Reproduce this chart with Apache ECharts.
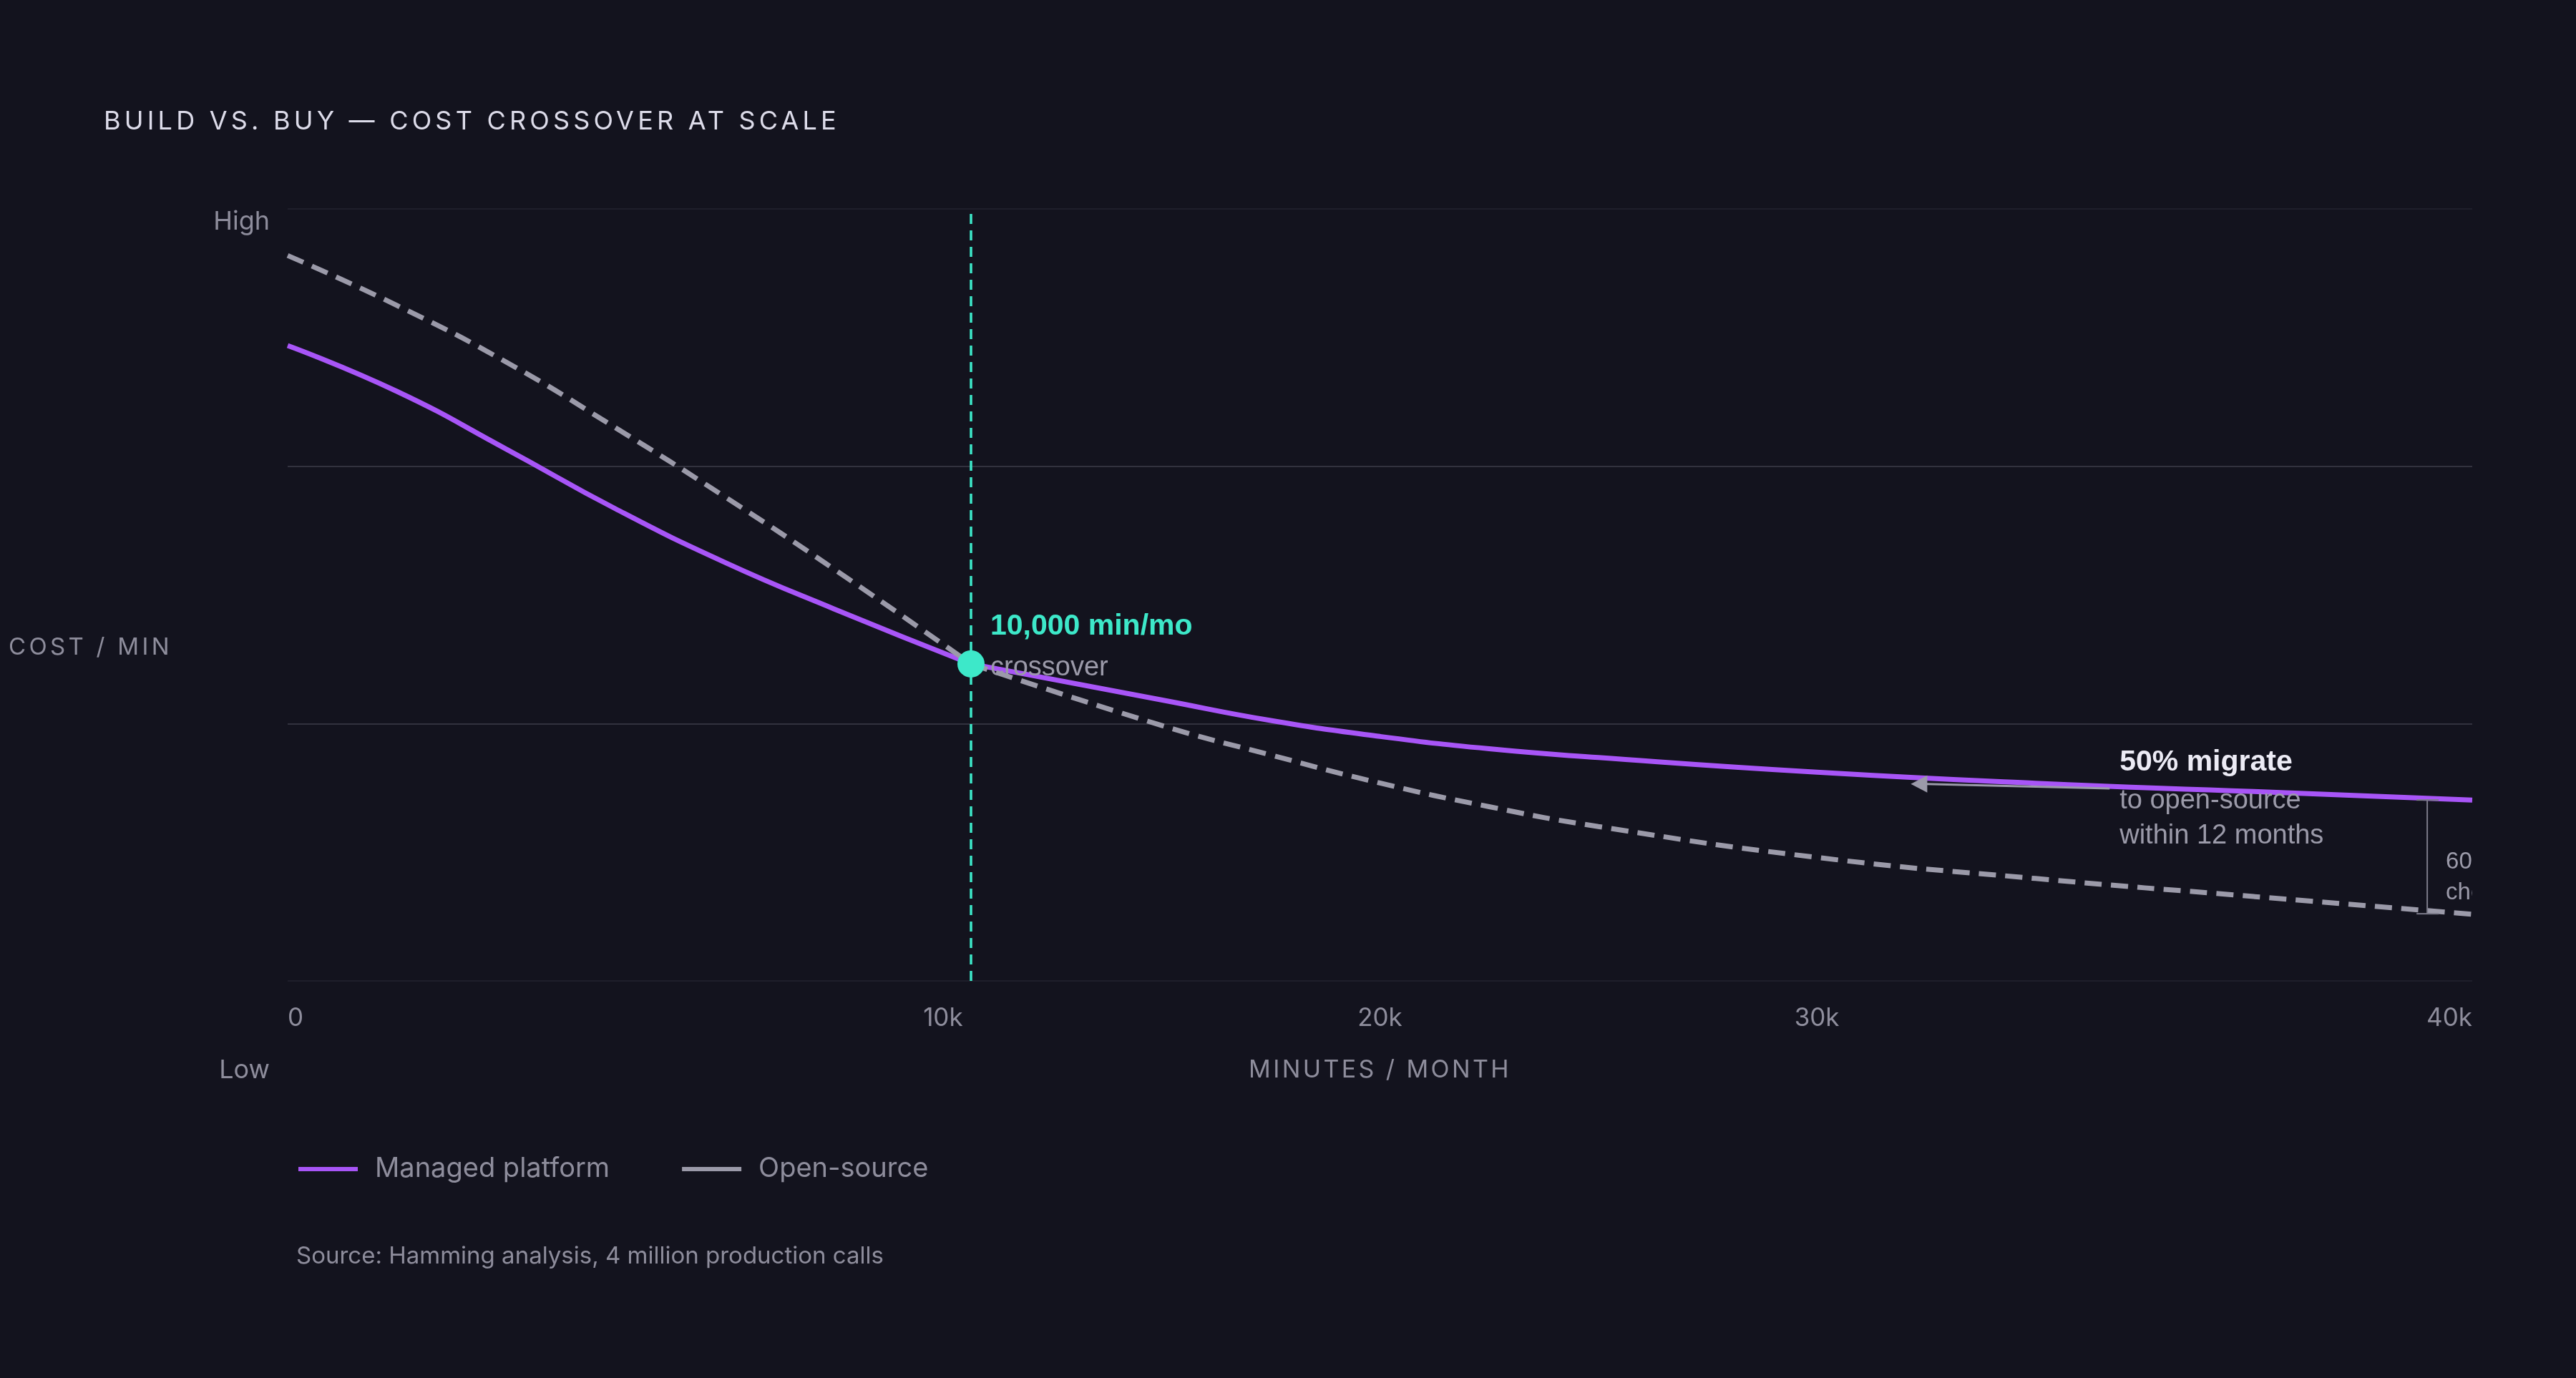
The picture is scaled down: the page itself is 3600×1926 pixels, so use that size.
<!DOCTYPE html>
<html style="height: 100%">
<head>
    <meta charset="utf-8">
</head>
<body style="height: 100%; margin: 0; background: #13131e">
    <div id="container" style="width: 3600px; height: 1926px"></div>
    <script type="text/javascript" src="https://cdn.jsdelivr.net/npm/echarts@6/dist/echarts.min.js"></script>
    <script type="text/javascript">
        // x is the position along the (non-linear) usage axis, 0..100
        var xTickPos = [0, 30, 50, 70, 100];
        var xTickLabels = ['0', '10k', '20k', '30k', '40k'];

        var managedX = [0, 5, 10, 15, 20, 25, 31.28, 40, 45, 50, 55, 60, 70, 80, 90, 100];
        var managedY = [2.469, 2.291, 2.067, 1.835, 1.627, 1.446, 1.232, 1.092, 1.012, 0.950, 0.902, 0.868, 0.811, 0.768, 0.736, 0.703];

        var openX = [0, 5, 10, 15, 20, 25, 31.28, 40, 45, 50, 55, 60, 70, 80, 90, 100];
        var openY = [2.819, 2.625, 2.405, 2.150, 1.882, 1.601, 1.232, 0.993, 0.878, 0.769, 0.677, 0.600, 0.480, 0.398, 0.328, 0.259];

        var crossover = [31.28, 1.232];
        var migrateArrow = [[83.4, 0.748], [74.3, 0.765]];
        var gapBracket = [97.94, 0.703, 0.261];

        var teal = '#3de8c9';
        var purple = '#a855f7';
        var grey = '#9b9aa9';
        var muted = '#8e8d9c';
        var sans = 'Inter';
        var note = '"Liberation Sans", Arial';

        // tracked caps labels: canvas letterSpacing, zrender has no option for it
        var spacedText = {
            'BUILD VS. BUY — COST CROSSOVER AT SCALE': 5.2,
            'COST / MIN': 4.3,
            'MINUTES / MONTH': 3.4
        };
        var baseFillText = CanvasRenderingContext2D.prototype.fillText;
        CanvasRenderingContext2D.prototype.fillText = function (t) {
            if (spacedText[t] && 'letterSpacing' in this) {
                var font = this.font;
                this.letterSpacing = spacedText[t] + 'px';
                baseFillText.apply(this, arguments);
                this.letterSpacing = '0px';
                // force chrome to drop the spaced font state
                this.font = '10px sans-serif';
                this.font = font;
                return;
            }
            return baseFillText.apply(this, arguments);
        };

        function zip(xs, ys) {
            return xs.map(function (x, i) { return [x, ys[i]]; });
        }

        // curves have a corner at the crossover, so each is drawn as two smooth pieces
        function pieces(xs, ys) {
            var k = xs.indexOf(crossover[0]);
            return [zip(xs.slice(0, k + 1), ys.slice(0, k + 1)), zip(xs.slice(k), ys.slice(k))];
        }

        function renderNotes(params, api) {
            var c = api.coord(crossover);
            var a0 = api.coord(migrateArrow[0]);
            var a1 = api.coord(migrateArrow[1]);
            var bt = api.coord([gapBracket[0], gapBracket[1]]);
            var bb = api.coord([gapBracket[0], gapBracket[2]]);
            var txt = function (x, y, s, font, fill) {
                return {
                    type: 'text', x: x, y: y,
                    style: { text: s, font: font, fill: fill, align: 'left', verticalAlign: 'middle', textAlign: 'left', textVerticalAlign: 'middle' }
                };
            };
            return {
                type: 'group',
                children: [
                    txt(c[0] + 27, c[1] - 52, '10,000 min/mo', 'bold 41px ' + note, teal),
                    txt(c[0] + 27, c[1] + 6, 'crossover', '38px ' + note, grey),
                    { type: 'line', shape: { x1: a0[0], y1: a0[1], x2: a1[0] + 20, y2: a1[1] }, style: { stroke: grey, lineWidth: 3 } },
                    { type: 'polygon', shape: { points: [[a1[0], a1[1]], [a1[0] + 23, a1[1] - 12], [a1[0] + 23, a1[1] + 12]] }, style: { fill: grey } },
                    txt(a0[0] + 14, a0[1] - 36, '50% migrate', 'bold 41px ' + note, '#ecebf5'),
                    txt(a0[0] + 14, a0[1] + 18, 'to open-source', '38px ' + note, grey),
                    txt(a0[0] + 14, a0[1] + 67, 'within 12 months', '38px ' + note, grey),
                    { type: 'line', shape: { x1: bt[0], y1: bt[1], x2: bb[0], y2: bb[1] }, style: { stroke: '#7c7b8a', lineWidth: 2 } },
                    { type: 'line', shape: { x1: bt[0] - 15, y1: bt[1], x2: bt[0] + 16, y2: bt[1] }, style: { stroke: '#7c7b8a', lineWidth: 2 } },
                    { type: 'line', shape: { x1: bb[0] - 15, y1: bb[1], x2: bb[0] + 16, y2: bb[1] }, style: { stroke: '#7c7b8a', lineWidth: 2 } },
                    txt(bt[0] + 26, bt[1] + 87, '60%', '33px ' + note, grey),
                    txt(bt[0] + 26, bt[1] + 130, 'cheaper', '33px ' + note, grey)
                ]
            };
        }

        var managedParts = pieces(managedX, managedY);
        var openParts = pieces(openX, openY);

        function curve(name, data, lineStyle) {
            return {
                name: name,
                type: 'line',
                smooth: 0.5,
                showSymbol: false,
                color: lineStyle.color,
                lineStyle: lineStyle,
                data: data
            };
        }
        var managedStyle = { color: purple, width: 7 };
        var openStyle = { color: grey, width: 7, type: [24, 13], cap: 'butt' };

        var dom = document.getElementById('container');
        var myChart = echarts.init(dom);
        var option = {
            backgroundColor: '#13131e',
            animation: false,
            title: [{
                text: 'BUILD VS. BUY — COST CROSSOVER AT SCALE',
                left: 145,
                top: 152,
                padding: 0,
                textStyle: { color: '#dddcea', fontFamily: sans, fontSize: 36, fontWeight: 'normal' }
            }, {
                text: 'Source: Hamming analysis, 4 million production calls',
                left: 414,
                top: 1740,
                padding: 0,
                textStyle: { color: muted, fontFamily: sans, fontSize: 33, fontWeight: 'normal' }
            }],
            grid: { left: 402, right: 145, top: 292, bottom: 555 },
            legend: {
                left: 412,
                top: 1610,
                icon: 'rect',
                itemWidth: 83,
                itemHeight: 6,
                itemGap: 101,
                textStyle: { color: muted, fontFamily: sans, fontSize: 38, padding: [0, 0, 0, 19] },
                data: ['Managed platform', 'Open-source']
            },
            xAxis: {
                type: 'value',
                min: 0,
                max: 100,
                name: 'MINUTES / MONTH',
                nameLocation: 'middle',
                nameGap: 108,
                nameTextStyle: { color: muted, fontFamily: sans, fontSize: 34 },
                axisLine: { show: false },
                axisTick: { show: false },
                splitLine: { show: false },
                axisLabel: {
                    customValues: xTickPos,
                    formatter: function (v) { return xTickLabels[xTickPos.indexOf(v)]; },
                    alignMinLabel: 'left',
                    alignMaxLabel: 'right',
                    color: muted,
                    fontFamily: sans,
                    fontSize: 35,
                    margin: 35
                }
            },
            yAxis: {
                type: 'value',
                min: 0,
                max: 3,
                interval: 1,
                axisLine: { show: false },
                axisTick: { show: false },
                axisLabel: { show: false },
                splitLine: { lineStyle: { color: ['#1f1f2b', '#32323e', '#32323e', '#1f1f2b'], width: 2 } }
            },
            graphic: [
                { type: 'text', x: 377, y: 310, style: { text: 'High', fill: muted, font: '36px ' + sans, align: 'right', verticalAlign: 'middle', textAlign: 'right', textVerticalAlign: 'middle' } },
                { type: 'text', x: 377, y: 1496, style: { text: 'Low', fill: muted, font: '36px ' + sans, align: 'right', verticalAlign: 'middle', textAlign: 'right', textVerticalAlign: 'middle' } },
                { type: 'text', x: 12, y: 905, style: { text: 'COST / MIN', fill: muted, font: '33px ' + sans, align: 'left', verticalAlign: 'middle', textAlign: 'left', textVerticalAlign: 'middle' } }
            ],
            series: [
                curve('Managed platform', managedParts[0], managedStyle),
                curve('Managed platform', managedParts[1], managedStyle),
                curve('Open-source', openParts[0], openStyle),
                curve('Open-source', openParts[1], openStyle),
                {
                    type: 'scatter',
                    symbolSize: 38,
                    itemStyle: { color: teal, opacity: 1 },
                    z: 5,
                    data: [crossover],
                    markLine: {
                        silent: true,
                        symbol: 'none',
                        label: { show: false },
                        lineStyle: { color: teal, width: 3.5, type: [14, 9], opacity: 1 },
                        data: [{ xAxis: crossover[0] }]
                    }
                }, {
                    type: 'custom',
                    silent: true,
                    clip: true,
                    z: 6,
                    renderItem: renderNotes,
                    data: [0]
                }
            ]
        };
        myChart.setOption(option);
    </script>
</body>
</html>
